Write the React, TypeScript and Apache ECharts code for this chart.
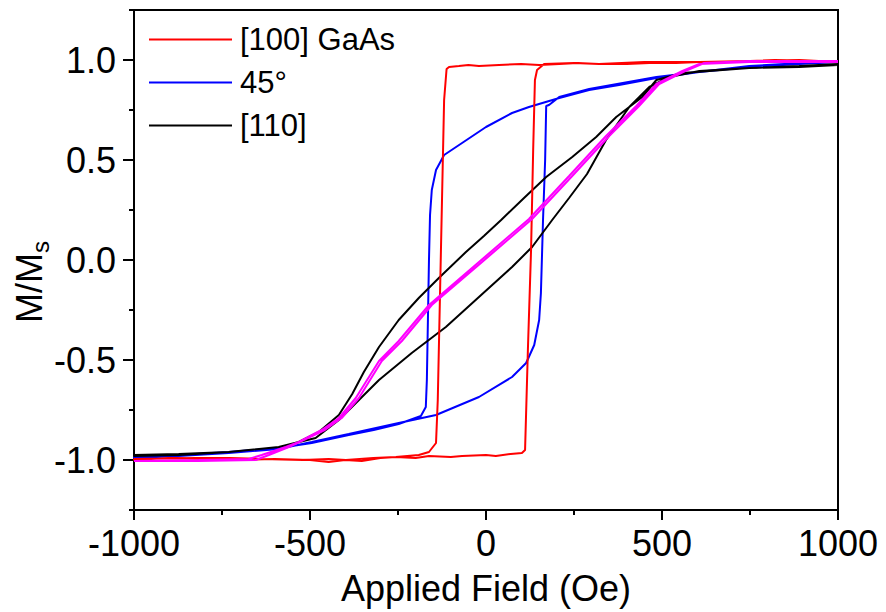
import React, { useEffect, useRef } from "react";
import * as echarts from "echarts";

// Field (Oe), M/Ms pairs
const gaAs100Down: number[][] = [
  [1000, 0.99], [890, 1.0], [748, 0.995], [680, 0.99], [606, 0.99], [540, 0.985], [464, 0.985], [400, 0.98],
  [321, 0.98], [260, 0.985], [208, 0.98], [151, 0.975], [100, 0.98], [37, 0.975], [-20, 0.97], [-50, 0.975],
  [-77, 0.97], [-105, 0.965], [-112, 0.955], [-119, 0.8], [-125, 0.3], [-131, -0.2], [-137, -0.7],
  [-142, -0.915], [-162, -0.96], [-191, -0.975], [-256, -0.985], [-320, -0.99], [-398, -1.0], [-447, -0.995],
  [-520, -1.0], [-637, -0.995], [-730, -0.99], [-825, -0.99], [-1000, -0.995],
];
const gaAs100Up: number[][] = [
  [-1000, -1.0], [-900, -0.99], [-800, -0.995], [-731, -1.0], [-600, -0.995], [-500, -1.0], [-447, -1.01],
  [-400, -1.0], [-353, -1.005], [-300, -0.99], [-256, -0.985], [-200, -0.99], [-162, -0.98], [-100, -0.985],
  [-68, -0.98], [0, -0.975], [28, -0.98], [70, -0.97], [102, -0.965], [111, -0.95], [119, -0.45], [128, 0.05],
  [134, 0.55], [139, 0.9], [145, 0.95], [165, 0.98], [250, 0.985], [321, 0.98], [450, 0.99], [606, 0.99],
  [750, 0.995], [820, 1.0], [890, 0.995], [1000, 0.995],
];

const deg45Down: number[][] = [
  [1000, 0.99], [890, 0.98], [748, 0.965], [606, 0.94], [484, 0.91], [378, 0.875], [293, 0.85], [208, 0.81],
  [122, 0.765], [74, 0.735], [0, 0.665], [-68, 0.585], [-119, 0.525], [-142, 0.45], [-154, 0.35],
  [-159, 0.225], [-162, 0.0], [-165, -0.3], [-168, -0.6], [-171, -0.735], [-185, -0.78], [-248, -0.82],
  [-319, -0.85], [-390, -0.875], [-495, -0.915], [-589, -0.94], [-731, -0.96], [-873, -0.975], [-1000, -0.985],
];
const deg45Up: number[][] = [
  [-1000, -0.99], [-873, -0.98], [-731, -0.965], [-589, -0.945], [-495, -0.91], [-390, -0.87], [-248, -0.815],
  [-142, -0.775], [-20, -0.685], [74, -0.585], [114, -0.515], [137, -0.425], [151, -0.3], [156, -0.165],
  [162, 0.2], [168, 0.5], [171, 0.77], [179, 0.775], [208, 0.815], [293, 0.855], [484, 0.915], [748, 0.97],
  [1000, 0.995],
];

const dir110Down: number[][] = [
  [1000, 0.975], [890, 0.965], [748, 0.96], [558, 0.935], [484, 0.9], [444, 0.815], [370, 0.715],
  [313, 0.615], [245, 0.515], [171, 0.415], [108, 0.31], [43, 0.2], [-6, 0.12], [-57, 0.04], [-134, -0.09],
  [-191, -0.19], [-248, -0.3], [-304, -0.435], [-347, -0.56], [-380, -0.67], [-418, -0.775], [-475, -0.86],
  [-532, -0.91], [-589, -0.935], [-731, -0.96], [-873, -0.97], [-1000, -0.975],
];
const dir110Up: number[][] = [
  [-1000, -0.98], [-873, -0.975], [-731, -0.96], [-589, -0.935], [-484, -0.89], [-418, -0.8], [-361, -0.7],
  [-304, -0.6], [-211, -0.465], [-114, -0.335], [-20, -0.185], [74, -0.035], [131, 0.065], [188, 0.2],
  [236, 0.31], [287, 0.43], [341, 0.6], [407, 0.765], [464, 0.865], [521, 0.915], [606, 0.945], [748, 0.96],
  [890, 0.97], [1000, 0.98],
];

const simDown: number[][] = [
  [1000, 0.99], [748, 0.99], [606, 0.98], [558, 0.945], [484, 0.88], [427, 0.77], [341, 0.62], [236, 0.42],
  [122, 0.205], [-20, -0.01], [-162, -0.225], [-248, -0.405], [-304, -0.505], [-370, -0.69], [-418, -0.79],
  [-467, -0.85], [-532, -0.91], [-569, -0.935], [-637, -0.975], [-674, -0.995], [-816, -1.0], [-1000, -1.005],
];
const simUp: number[][] = [
  [-1000, -1.005], [-816, -1.005], [-654, -1.0], [-617, -0.975], [-560, -0.935], [-458, -0.85], [-410, -0.79],
  [-361, -0.69], [-296, -0.505], [-239, -0.405], [-154, -0.225], [-11, -0.01], [131, 0.205], [245, 0.42],
  [350, 0.62], [435, 0.77], [492, 0.88], [566, 0.945], [620, 0.985], [748, 0.995], [1000, 0.995],
];

const seriesNames = ["[100] GaAs", "45°", "[110]"];
const xTicks = { min: -1000, max: 1000, step: 500 };
const yTicks = { min: -1, max: 1, step: 0.5 };

const FONT = "'Liberation Sans', Arial, Helvetica, sans-serif";

export default function App() {
  const ref = useRef<HTMLDivElement>(null);
  useEffect(() => {
    if (!ref.current) return;
    const chart = echarts.init(ref.current, null, { renderer: "svg" });
    const line = (name: string, color: string, data: number[][], z: number) => ({
      name,
      type: "line",
      xAxisIndex: 0,
      yAxisIndex: 0,
      data,
      symbol: "none",
      showSymbol: false,
      z,
      lineStyle: { color, width: 2 },
      itemStyle: { color },
    });
    chart.setOption({
      animation: false,
      backgroundColor: "#ffffff",
      textStyle: { fontFamily: FONT },
      grid: [
        { left: 134, right: 48, top: 10, bottom: 102, show: true, borderColor: "#000", borderWidth: 2 },
        { left: 134, right: 48, top: 60, bottom: 152, show: false },
      ],
      legend: {
        data: seriesNames,
        orient: "vertical",
        left: 144,
        top: 19,
        icon: "rect",
        itemWidth: 83,
        itemHeight: 2,
        itemGap: 12,
        textStyle: { fontSize: 31, color: "#000", fontFamily: FONT, padding: [0, 0, 0, 3] },
      },
      xAxis: [
        {
          type: "value",
          gridIndex: 0,
          min: xTicks.min,
          max: xTicks.max,
          interval: xTicks.step,
          axisLine: { show: true, onZero: false, lineStyle: { color: "#000", width: 2 } },
          axisTick: { show: true, length: 10, lineStyle: { color: "#000", width: 2 } },
          minorTick: { show: true, splitNumber: 2, length: 5, lineStyle: { color: "#000", width: 2 } },
          splitLine: { show: false },
          axisLabel: { fontSize: 36, color: "#000", margin: 15, fontFamily: FONT, formatter: (v: number) => String(v) },
          name: "Applied Field (Oe)",
          nameLocation: "middle",
          nameGap: 60,
          nameTextStyle: { fontSize: 36, color: "#000", fontFamily: FONT },
        },
        { type: "value", gridIndex: 1, min: xTicks.min, max: xTicks.max, show: false, axisLine: { onZero: false } },
      ],
      yAxis: [
        {
          type: "value",
          gridIndex: 0,
          min: -1.25,
          max: 1.25,
          interval: 0.25,
          axisLine: { show: true, onZero: false, lineStyle: { color: "#000", width: 2 } },
          axisTick: { show: true, length: 5, lineStyle: { color: "#000", width: 2 } },
          axisLabel: { show: false },
          splitLine: { show: false },
        },
        {
          type: "value",
          gridIndex: 1,
          min: yTicks.min,
          max: yTicks.max,
          interval: yTicks.step,
          axisLine: { show: false, onZero: false },
          axisTick: { show: true, length: 11, lineStyle: { color: "#000", width: 2 } },
          axisLabel: { fontSize: 36, color: "#000", margin: 18, fontFamily: FONT, formatter: (v: number) => v.toFixed(1) },
          splitLine: { show: false },
        },
      ],
      graphic: [
        {
          type: "text",
          x: 29,
          y: 282,
          rotation: Math.PI / 2,
          style: {
            text: "{m|M/M}{s|s}",
            rich: {
              m: { fontSize: 36, fontFamily: FONT, fill: "#000" },
              s: { fontSize: 24, fontFamily: FONT, fill: "#000", padding: [22, 0, 0, 0] },
            },
            align: "center",
            verticalAlign: "middle",
          },
        },
      ],
      series: [
        line("45°", "#0000ff", [...deg45Down, ...deg45Up], 2),
        line("[110]", "#000000", [...dir110Down, ...dir110Up], 3),
        line("[100] GaAs", "#ff0000", [...gaAs100Down, ...gaAs100Up], 4),
        line("Simulation", "#ff00ff", [...simDown, ...simUp], 5),
      ],
    });
    return () => chart.dispose();
  }, []);
  return <div ref={ref} style={{ width: 886, height: 612, position: "absolute", left: 0, top: 0 }} />;
}
